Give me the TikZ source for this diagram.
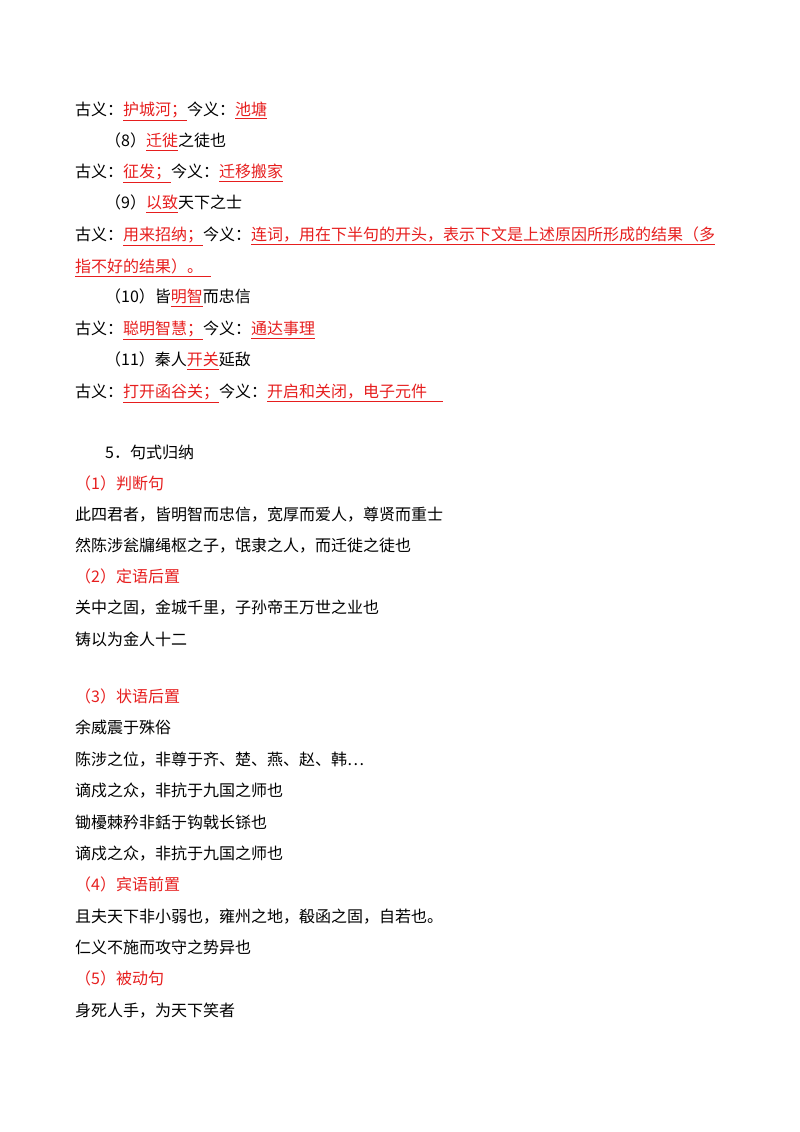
\documentclass[tikz,border=0pt]{standalone}
\usepackage{fontspec}
\setmainfont{Noto Sans CJK SC}
\usepackage{xcolor}
\definecolor{rd}{RGB}{230,30,30}
\newcommand{\ru}[1]{{\color{rd}\underline{#1}}}
\begin{document}
\begin{tikzpicture}[x=1pt,y=1pt,every node/.style={anchor=base west,inner sep=0pt,font=\fontsize{16}{18}\selectfont}]
\useasboundingbox (0,0) rectangle (800,1132);
\def\L#1#2#3{\node (n#1) at (#2,{1132-#1-6}) {#3};}
\L{110}{75}{古义：\ru{护城河；}今义：\ru{池塘}}
\L{141}{105}{（8）\ru{迁徙}之徒也}
\L{172}{75}{古义：\ru{征发；}今义：\ru{迁移搬家}}
\L{203}{105}{（9）\ru{以致}天下之士}
\L{235}{75}{古义：\ru{用来招纳；}今义：\ru{连词，用在下半句的开头，表示下文是上述原因所形成的结果（多}}
\L{267}{75}{\ru{指不好的结果）。\hspace{8pt}}}
\L{297}{105}{（10）皆\ru{明智}而忠信}
\L{329}{75}{古义：\ru{聪明智慧；}今义：\ru{通达事理}}
\L{360}{105}{（11）秦人\ru{开关}延敌}
\L{392}{75}{古义：\ru{打开函谷关；}今义：\ru{开启和关闭，电子元件\hspace{16pt}}}
\L{453}{105}{5．句式归纳}
\L{484}{75}{\color{rd}（1）判断句}
\L{515}{75}{此四君者，皆明智而忠信，宽厚而爱人，尊贤而重士}
\L{546}{75}{然陈涉瓮牖绳枢之子，氓隶之人，而迁徙之徒也}
\L{577}{75}{\color{rd}（2）定语后置}
\L{608}{75}{关中之固，金城千里，子孙帝王万世之业也}
\L{640}{75}{铸以为金人十二}
\L{697}{75}{\color{rd}（3）状语后置}
\L{728}{75}{余威震于殊俗}
\L{760}{75}{陈涉之位，非尊于齐、楚、燕、赵、韩…}
\L{791}{75}{谪戍之众，非抗于九国之师也}
\L{823}{75}{锄櫌棘矜非銛于钩戟长铩也}
\L{854}{75}{谪戍之众，非抗于九国之师也}
\L{885}{75}{\color{rd}（4）宾语前置}
\L{917}{75}{且夫天下非小弱也，雍州之地，殽函之固，自若也。}
\L{948}{75}{仁义不施而攻守之势异也}
\L{979}{75}{\color{rd}（5）被动句}
\L{1011}{75}{身死人手，为天下笑者}
\end{tikzpicture}
\end{document}
